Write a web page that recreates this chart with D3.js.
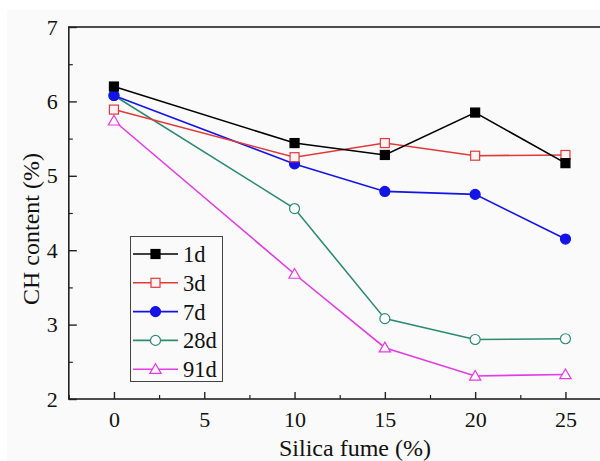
<!DOCTYPE html>
<html><head><meta charset="utf-8">
<script src="https://cdn.jsdelivr.net/npm/d3@7"></script>
<style>body{margin:0;background:#fff;}svg{display:block;} svg text{font-family:"Liberation Serif","Times New Roman","DejaVu Serif",serif;}</style>
</head><body>
<svg id="c" width="600" height="461"></svg>
<script>
const silica = [0, 10, 15, 20, 25];
const s1d  = [6.20, 5.44, 5.28, 5.85, 5.17];
const s3d  = [5.89, 5.25, 5.44, 5.27, 5.28];
const s7d  = [6.08, 5.16, 4.79, 4.75, 4.15];
const s28d = [6.08, 4.56, 3.08, 2.80, 2.81];
const s91d = [5.74, 3.68, 2.69, 2.31, 2.33];
const seriesNames = ["1d", "3d", "7d", "28d", "91d"];
const xTicks = [0, 5, 10, 15, 20, 25];
const yTicks = [2, 3, 4, 5, 6, 7];

const seriesData = [s1d, s3d, s7d, s28d, s91d];
const styles = [
  {color:"#000000", shape:"square", fill:"#000000"},
  {color:"#e23a3a", shape:"square", fill:"#fff4f4"},
  {color:"#1414e6", shape:"circle", fill:"#1414e6"},
  {color:"#2f8a74", shape:"circle", fill:"#ffffff"},
  {color:"#e23ce2", shape:"triangle", fill:"#fff8ff"}
];

const svg = d3.select("#c");
svg.append("rect").attr("x",7).attr("y",10).attr("width",593).attr("height",451).attr("fill","#fafafa");

const x = d3.scaleLinear().domain([-2.5, 27.5]).range([68.8, 610.6]);
const y = d3.scaleLinear().domain([2, 7]).range([399, 27]);
const font = '"Liberation Serif","Times New Roman","DejaVu Serif",serif';

// frame
svg.append("rect").attr("x", x(-2.5)).attr("y", y(7)).attr("width", x(27.5)-x(-2.5)).attr("height", y(2)-y(7))
  .attr("fill","none").attr("stroke","#222").attr("stroke-width",1.6);

// x axis
const xAxis = d3.axisBottom(x).tickValues(xTicks).tickSizeInner(-7).tickSizeOuter(0).tickPadding(12).tickFormat(d3.format("d"));
const gx = svg.append("g").attr("transform",`translate(0,${y(2)})`).call(xAxis);
gx.attr("font-family",null);
gx.select(".domain").remove();
gx.selectAll("line").attr("stroke","#222").attr("stroke-width",1.4);
gx.selectAll("text").style("font-family",font).attr("font-size",22).attr("fill","#111");
const xMinor = d3.axisBottom(x).tickValues([-2.5,2.5,7.5,12.5,17.5,22.5]).tickSizeInner(-4).tickSizeOuter(0).tickFormat("");
const gxm = svg.append("g").attr("transform",`translate(0,${y(2)})`).call(xMinor);
gxm.select(".domain").remove();
gxm.selectAll("line").attr("stroke","#222").attr("stroke-width",1.2);

// y axis
const yAxis = d3.axisLeft(y).tickValues(yTicks).tickSizeInner(-8).tickSizeOuter(0).tickPadding(11).tickFormat(d3.format("d"));
const gy = svg.append("g").attr("transform",`translate(${x(-2.5)},0)`).call(yAxis);
gy.attr("font-family",null);
gy.select(".domain").remove();
gy.selectAll("line").attr("stroke","#222").attr("stroke-width",1.4);
gy.selectAll("text").style("font-family",font).attr("font-size",22).attr("fill","#111");
const yMinor = d3.axisLeft(y).tickValues([2.5,3.5,4.5,5.5,6.5]).tickSizeInner(-4).tickSizeOuter(0).tickFormat("");
const gym = svg.append("g").attr("transform",`translate(${x(-2.5)},0)`).call(yMinor);
gym.select(".domain").remove();
gym.selectAll("line").attr("stroke","#222").attr("stroke-width",1.2);

// titles
svg.append("text").attr("x",355).attr("y",456).attr("text-anchor","middle")
  .style("font-family",font).attr("font-size",24).attr("fill","#111").text("Silica fume (%)");
svg.append("text").attr("transform","translate(39,229) rotate(-90)").attr("text-anchor","middle")
  .style("font-family",font).attr("font-size",24).attr("fill","#111").text("CH content (%)");

function marker(g, st, cx, cy){
  if(st.shape==="square"){
    g.append("rect").attr("x",cx-4.5).attr("y",cy-4.5).attr("width",9).attr("height",9)
      .attr("fill",st.fill).attr("stroke",st.color).attr("stroke-width",1.2);
  } else if(st.shape==="circle"){
    g.append("circle").attr("cx",cx).attr("cy",cy).attr("r",5)
      .attr("fill",st.fill).attr("stroke",st.color).attr("stroke-width",1.2);
  } else {
    const sym = d3.symbol().type(d3.symbolTriangle).size(55);
    g.append("path").attr("d",sym()).attr("transform",`translate(${cx},${cy+1})`)
      .attr("fill",st.fill).attr("stroke",st.color).attr("stroke-width",1.2);
  }
}

const line = d3.line().x(d=>x(d[0])).y(d=>y(d[1]));
for(let i=seriesData.length-1;i>=0;i--){
  const pts = silica.map((s,j)=>[s, seriesData[i][j]]);
  const g = svg.append("g");
  g.append("path").attr("d",line(pts)).attr("fill","none").attr("stroke",styles[i].color).attr("stroke-width",1.6);
  pts.forEach(p=>marker(g, styles[i], x(p[0]), y(p[1])));
}

// legend
const lg = svg.append("g");
lg.append("rect").attr("x",130.5).attr("y",236.5).attr("width",92).attr("height",145)
  .attr("fill","#fafafa").attr("stroke","#444").attr("stroke-width",1);
seriesNames.forEach((n,i)=>{
  const ly = 254 + i*28.8;
  lg.append("line").attr("x1",133).attr("x2",178).attr("y1",ly).attr("y2",ly)
    .attr("stroke",styles[i].color).attr("stroke-width",1.6);
  marker(lg, styles[i], 155.5, ly);
  lg.append("text").attr("x",183).attr("y",ly+8).style("font-family",font).attr("font-size",22.5)
    .attr("fill","#111").text(n);
});
</script>
</body></html>
